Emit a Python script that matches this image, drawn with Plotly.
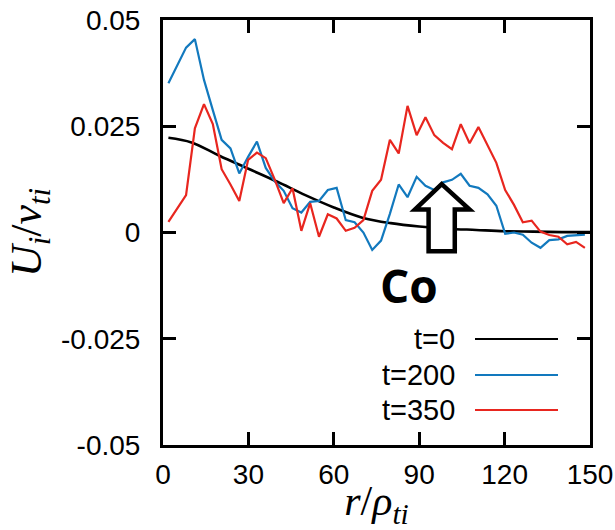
import plotly.graph_objects as go

# Radial grid (r / rho_ti) of the simulation profiles
r = [1.9, 5.0, 8.1, 11.2, 14.4, 17.5, 20.6, 23.7, 26.8, 29.9, 33.0, 36.1,
     39.3, 42.4, 45.5, 48.6, 51.7, 54.8, 57.9, 61.0, 64.2, 67.3, 70.4, 73.5,
     76.6, 79.7, 82.8, 85.9, 89.1, 92.2, 95.3, 98.4, 101.5, 104.6, 107.7, 110.8,
     114.0, 117.1, 120.2, 123.3, 126.4, 129.5, 132.6, 135.7, 138.9, 142.0, 145.1, 148.2]

# Ion flow U_i / v_ti at t=200
u_t200 = [0.0351, 0.0394, 0.0435, 0.0455, 0.0359, 0.0288, 0.0218, 0.0198, 0.0139, 0.0178,
          0.0214, 0.0152, 0.0120, 0.0098, 0.0057, 0.0047, 0.0072, 0.0074, 0.0100, 0.0105,
          0.0029, 0.0024, 0.0000, -0.0041, -0.0019, 0.0044, 0.0113, 0.0083, 0.0131, 0.0110,
          0.0100, 0.0118, 0.0124, 0.0138, 0.0110, 0.0105, 0.0090, 0.0063, -0.0003, 0.0000,
          -0.0005, -0.0024, -0.0036, -0.0018, -0.0016, -0.0008, -0.0007, -0.0005]

# Ion flow U_i / v_ti at t=350
u_t350 = [0.0025, 0.0057, 0.0088, 0.0245, 0.0302, 0.0255, 0.0149, 0.0113, 0.0074, 0.0171,
          0.0188, 0.0175, 0.0124, 0.0069, 0.0104, 0.0004, 0.0069, -0.0010, 0.0043, 0.0033,
          0.0004, 0.0011, 0.0029, 0.0098, 0.0124, 0.0218, 0.0186, 0.0298, 0.0229, 0.0271,
          0.0229, 0.0211, 0.0196, 0.0255, 0.0210, 0.0248, 0.0206, 0.0164, 0.0100, 0.0065,
          0.0024, 0.0028, 0.0002, -0.0006, -0.0010, -0.0028, -0.0022, -0.0036]

# Initial profile t=0 (smooth)
r_t0 = [1.9, 10, 20, 30, 40, 50, 60, 70, 80, 90, 100, 110, 120, 130, 140, 150]
u_t0 = [0.0223, 0.0212, 0.0180, 0.0150, 0.0120, 0.0088, 0.0059, 0.0035, 0.0022,
        0.0014, 0.0009, 0.0006, 0.0003, 0.0002, 0.0001, 0.0001]

series_names = ["t=0", "t=200", "t=350"]
series_colors = ["#000000", "#1279be", "#e8261f"]

x_ticks = [0, 30, 60, 90, 120, 150]
y_ticks = [-0.05, -0.025, 0, 0.025, 0.05]
y_tick_text = ["-0.05", "-0.025", "0", "0.025", "0.05"]

# Plot-area geometry in pixels (used to place the in-plot label and legend)
PL, PR, PT, PB = 163, 590, 20, 445


def px_to_domain(px, py):
    return (px - PL) / (PR - PL), (PB - py) / (PB - PT)


fig = go.Figure()
fig.add_trace(go.Scatter(x=r_t0, y=u_t0, mode="lines", name=series_names[0],
                         line=dict(color=series_colors[0], width=2.6, shape="spline"),
                         showlegend=False))
fig.add_trace(go.Scatter(x=r, y=u_t200, mode="lines", name=series_names[1],
                         line=dict(color=series_colors[1], width=2.2), showlegend=False))
fig.add_trace(go.Scatter(x=r, y=u_t350, mode="lines", name=series_names[2],
                         line=dict(color=series_colors[2], width=2.2), showlegend=False))

# Hollow "Co" arrow
arrow = [(97.9, 0.0114), (107.7, 0.0054), (102.5, 0.0054), (102.5, -0.0044),
         (93.3, -0.0044), (93.3, 0.0054), (88.5, 0.0054)]
path = "M " + " L ".join(f"{x} {y}" for x, y in arrow) + " Z"
fig.add_shape(type="path", path=path, xref="x", yref="y",
              line=dict(color="black", width=4.5), fillcolor="white", layer="above")

cx, cy = px_to_domain(409, 285)
fig.add_annotation(x=cx, y=cy, xref="x domain", yref="y domain", text="<b>Co</b>",
                   showarrow=False, font=dict(family="Open Sans", size=46, color="black"))

# Legend: label on the left, line sample on the right
legend_rows = [339, 375, 410]
for name, color, row in zip(series_names, series_colors, legend_rows):
    tx, ty = px_to_domain(457, row)
    x0, _ = px_to_domain(475, row)
    x1, _ = px_to_domain(558, row)
    fig.add_annotation(x=tx, y=ty, xref="x domain", yref="y domain", text=name,
                       showarrow=False, xanchor="right", yanchor="middle",
                       font=dict(family="Liberation Sans", size=29, color="black"))
    fig.add_shape(type="line", xref="x domain", yref="y domain", x0=x0, x1=x1,
                  y0=ty, y1=ty, line=dict(color=color, width=2.2))

axis_common = dict(showline=True, linecolor="black", linewidth=3, mirror="allticks",
                   ticks="inside", ticklen=13, tickwidth=2.5, tickcolor="black",
                   showgrid=False, zeroline=False, automargin=False,
                   tickfont=dict(family="Liberation Sans", size=28, color="black"))

fig.update_xaxes(range=[0, 150], tickvals=x_ticks, ticklabelstandoff=2,
                 title=dict(text="<i>r</i>/<i>ρ</i><sub><i>ti</i></sub>", standoff=2,
                            font=dict(family="Liberation Serif", size=42, color="black")),
                 **axis_common)
fig.update_yaxes(range=[-0.05, 0.05], tickvals=y_ticks, ticktext=y_tick_text,
                 ticklabelstandoff=14,
                 title=dict(text="<i>U</i><sub><i>i</i></sub>/<i>v</i><sub><i>ti</i></sub>",
                            standoff=6,
                            font=dict(family="Liberation Serif", size=44, color="black")),
                 **axis_common)

fig.update_layout(width=615, height=530,
                  margin=dict(l=PL, r=615 - PR, t=PT, b=530 - PB),
                  paper_bgcolor="white", plot_bgcolor="white")

fig.write_html("out.html")
